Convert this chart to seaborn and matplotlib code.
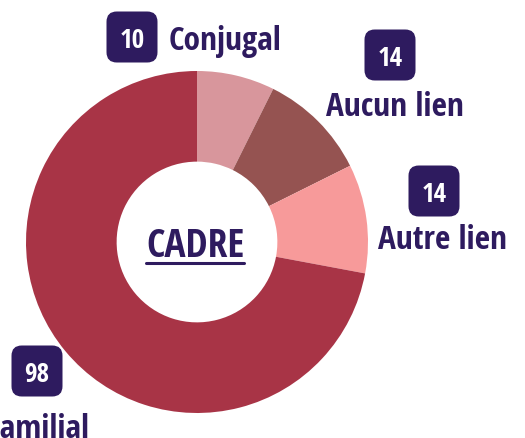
import matplotlib
matplotlib.use('Agg')
import matplotlib.pyplot as plt
import seaborn as sns
from matplotlib.patches import FancyBboxPatch
from matplotlib.lines import Line2D

# données
categories = ['Conjugal', 'Aucun lien', 'Autre lien', 'Familial']
valeurs = [10, 14, 14, 98]
couleurs = ['#d8969c', '#955351', '#f79a9a', '#a83446']
titre_centre = 'CADRE'

violet = '#2e1b5f'

sns.set_theme(style='white')
plt.rcParams['font.family'] = ['Open Sans Condensed', 'Open Sans', 'DejaVu Sans']

W, H = 525, 439
CX, CY, R = 197, 243, 171   # centre et rayon du donut en pixels

fig = plt.figure(figsize=(W / 100, H / 100), dpi=100)
ax = fig.add_axes([0, 0, 1, 1])

ax.pie(valeurs, colors=couleurs, startangle=90, counterclock=False,
       radius=1, wedgeprops=dict(width=0.53, linewidth=0))

ax.set_xlim(-CX / R, (W - CX) / R)
ax.set_ylim(-(H - CY) / R, CY / R)
ax.set_aspect('equal')
ax.axis('off')


def px(x, y):
    return (x - CX) / R, (CY - y) / R


# étiquettes : (centre de la boîte, position du texte, alignement)
placement = {
    'Conjugal': ((132, 38), (169, 38), 'left'),
    'Aucun lien': ((390, 56), (395, 104), 'center'),
    'Autre lien': ((434, 192), (442, 237), 'center'),
    'Familial': ((37, 372), (38, 426), 'center'),
}

taille = 51 / R
for cat, val in zip(categories, valeurs):
    (bx, by), (tx, ty), ha = placement[cat]
    x0, y0 = px(bx, by)
    ax.add_patch(FancyBboxPatch((x0 - taille / 2, y0 - taille / 2), taille, taille,
                                boxstyle='round,pad=0,rounding_size=0.06',
                                facecolor=violet, edgecolor='none', zorder=3))
    ax.text(x0, y0, str(val), color='white', fontsize=19.5, fontweight='bold',
            ha='center', va='center_baseline', zorder=4)
    ax.text(*px(tx, ty), cat, color=violet, fontsize=24, fontweight='bold',
            ha=ha, va='center_baseline', zorder=4)

t = ax.text(*px(195, 242), titre_centre, color=violet, fontsize=28.5, fontweight='bold',
            ha='center', va='center_baseline')

# soulignement sous le titre central
fig.canvas.draw()
bb = t.get_window_extent().transformed(fig.transFigure.inverted())
y_line = bb.y0 + 3 / H
fig.add_artist(Line2D([bb.x0, bb.x1], [y_line, y_line], color=violet, linewidth=2.2,
                      transform=fig.transFigure))

fig.savefig('out.png', dpi=100)
